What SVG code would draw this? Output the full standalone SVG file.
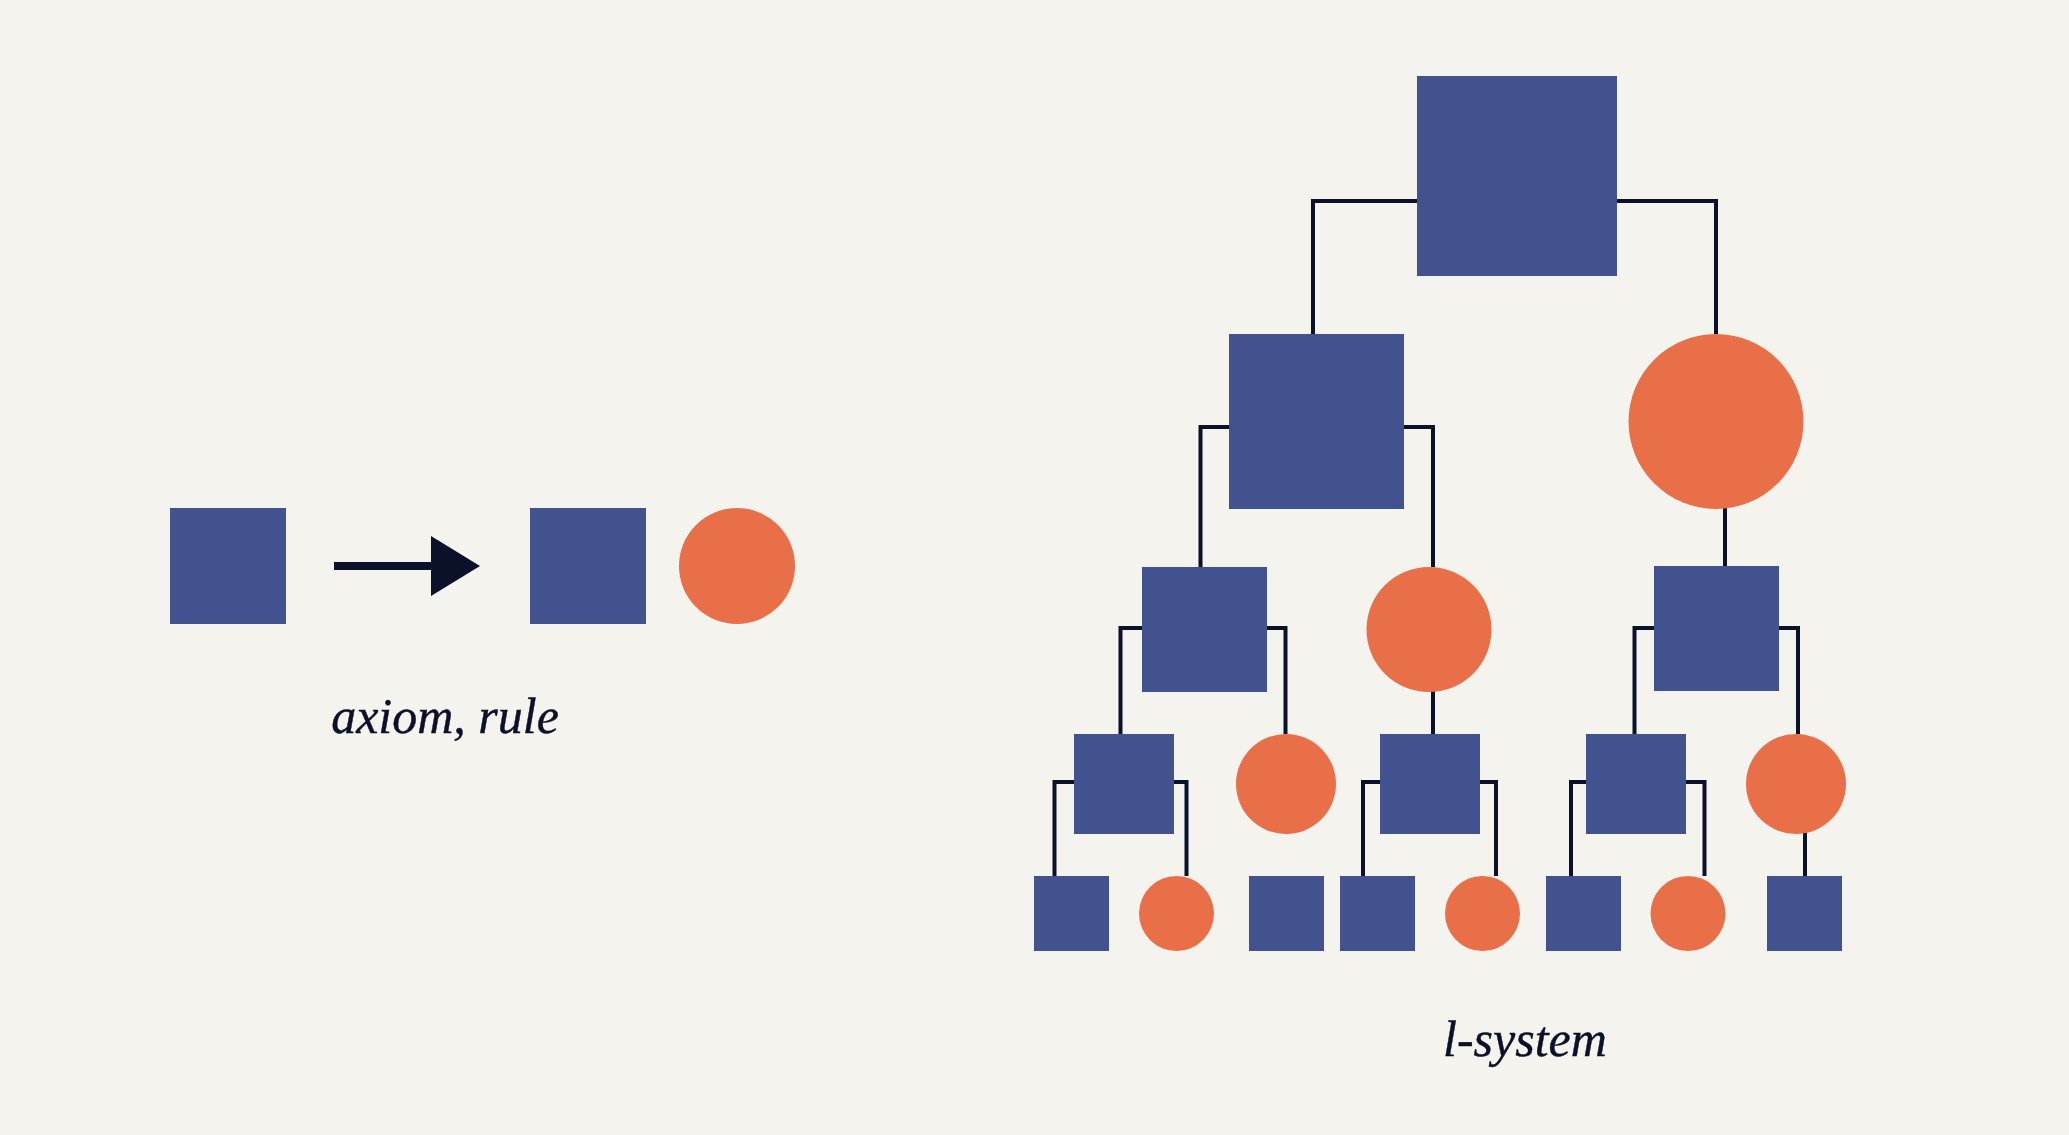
<svg xmlns="http://www.w3.org/2000/svg" width="2069" height="1135" viewBox="0 0 2069 1135">
<style>
.sq{fill:#42528E}
.ci{fill:#E86F47}
.cn{fill:none;stroke:#0B1129;stroke-width:4;stroke-linejoin:miter;stroke-linecap:butt}
.lbl{font-family:"Liberation Serif","DejaVu Serif",serif;font-style:italic;font-size:50px;fill:#0B1129;text-anchor:middle;stroke:#0B1129;stroke-width:0.4}
</style>
<rect x="0" y="0" width="2069" height="1135" fill="#F4F3EE"/>
<g id="rule">
<g id="axiom-square"><rect class="sq" x="170" y="508" width="116" height="116"/></g>
<g id="rule-arrow">
<rect x="334" y="562" width="98" height="8" fill="#0B1129"/>
<polygon points="431,536 480,566 431,596" fill="#0B1129"/>
</g>
<g id="rule-square"><rect class="sq" x="530" y="508" width="116" height="116"/></g>
<g id="rule-circle"><circle class="ci" cx="737" cy="566" r="58"/></g>
<text id="label-axiom" class="lbl" x="445" y="733">axiom, rule</text>
</g>
<g id="connectors">
<path class="cn" d="M1313 334 V201 H1716 V334"/>
<path class="cn" d="M1200.5 567 V427 H1433 V567"/>
<path class="cn" d="M1725 505 V566"/>
<path class="cn" d="M1120.5 734 V628 H1285.5 V734"/>
<path class="cn" d="M1433 690 V734"/>
<path class="cn" d="M1634.5 734 V628 H1798 V734"/>
<path class="cn" d="M1054.5 876 V782 H1186.5 V876"/>
<path class="cn" d="M1363 876 V782 H1496 V876"/>
<path class="cn" d="M1571 876 V782 H1704.5 V876"/>
<path class="cn" d="M1805 830 V876"/>
</g>
<g id="n1"><rect class="sq" x="1417" y="76" width="200" height="200"/></g>
<g id="n2a"><rect class="sq" x="1229" y="334" width="175" height="175"/></g>
<g id="n2b"><circle class="ci" cx="1716" cy="421.5" r="87.5"/></g>
<g id="n3a"><rect class="sq" x="1142" y="567" width="125" height="125"/></g>
<g id="n3b"><circle class="ci" cx="1429" cy="629.5" r="62.5"/></g>
<g id="n3c"><rect class="sq" x="1654" y="566" width="125" height="125"/></g>
<g id="n4a"><rect class="sq" x="1074" y="734" width="100" height="100"/></g>
<g id="n4b"><circle class="ci" cx="1286" cy="784" r="50"/></g>
<g id="n4c"><rect class="sq" x="1380" y="734" width="100" height="100"/></g>
<g id="n4d"><rect class="sq" x="1586" y="734" width="100" height="100"/></g>
<g id="n4e"><circle class="ci" cx="1796" cy="784" r="50"/></g>
<g id="n5a"><rect class="sq" x="1034" y="876" width="75" height="75"/></g>
<g id="n5b"><circle class="ci" cx="1176.5" cy="913.5" r="37.5"/></g>
<g id="n5c"><rect class="sq" x="1249" y="876" width="75" height="75"/></g>
<g id="n5d"><rect class="sq" x="1340" y="876" width="75" height="75"/></g>
<g id="n5e"><circle class="ci" cx="1482.5" cy="913.5" r="37.5"/></g>
<g id="n5f"><rect class="sq" x="1546" y="876" width="75" height="75"/></g>
<g id="n5g"><circle class="ci" cx="1688" cy="913.5" r="37.5"/></g>
<g id="n5h"><rect class="sq" x="1767" y="876" width="75" height="75"/></g>
<text id="label-lsystem" class="lbl" x="1525" y="1056">l-system</text>
</svg>
